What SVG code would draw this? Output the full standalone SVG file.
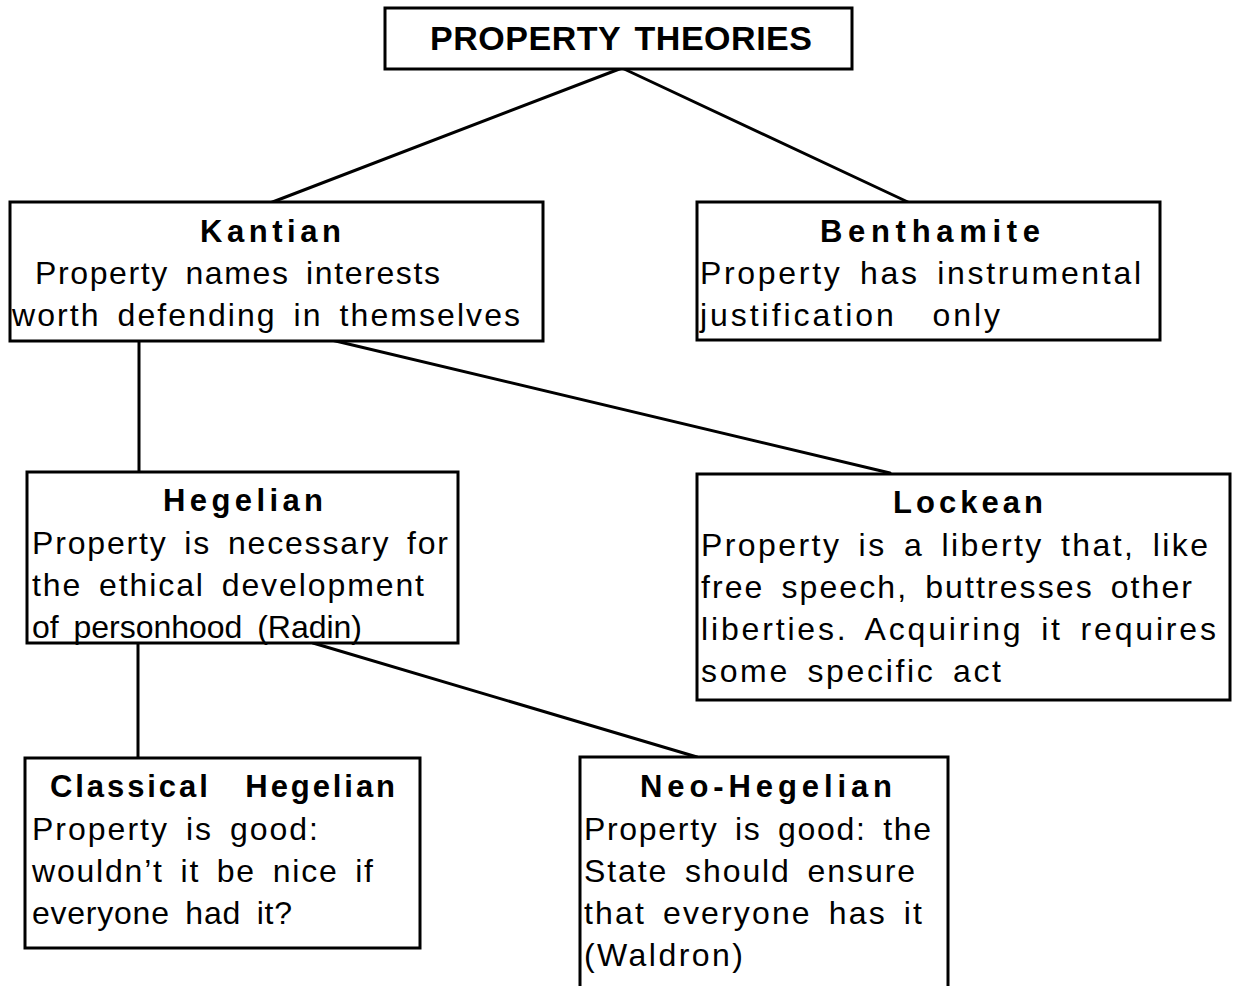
<svg xmlns="http://www.w3.org/2000/svg" width="1234" height="986" viewBox="0 0 1234 986">
<style>
.box{fill:#fff;stroke:#000;stroke-width:3}
.con line{stroke:#000;stroke-width:3;stroke-linecap:round}
text{font-family:"Liberation Sans",Arial,sans-serif;fill:#000}
.t{font-weight:bold;font-size:31px}
.b{font-size:32px;word-spacing:6px}
.top{font-weight:bold;font-size:34px;word-spacing:4px}
.pre{white-space:pre}
</style>
<rect width="1234" height="986" fill="#fff"/>
<g class="con">
<line x1="622" y1="68" x2="270" y2="203"/>
<line x1="622" y1="68" x2="910" y2="203"/>
<line x1="139" y1="341" x2="139" y2="472"/>
<line x1="323" y1="338" x2="890" y2="473"/>
<line x1="138" y1="643" x2="138" y2="758"/>
<line x1="313" y1="643" x2="697" y2="757"/>
</g>
<g id="root">
<rect class="box" x="385" y="8" width="467" height="61"/>
<text class="top" x="430" y="50" textLength="382" lengthAdjust="spacing">PROPERTY THEORIES</text>
</g>
<g id="kantian">
<rect class="box" x="10" y="202" width="533" height="139"/>
<text class="t" x="200" y="242" textLength="141" lengthAdjust="spacing">Kantian</text>
<text class="b" x="35" y="284" textLength="405" lengthAdjust="spacing">Property names interests</text>
<text class="b" x="12" y="326" textLength="508" lengthAdjust="spacing">worth defending in themselves</text>
</g>
<g id="benthamite">
<rect class="box" x="697" y="202" width="463" height="138"/>
<text class="t" x="820" y="242" textLength="220" lengthAdjust="spacing">Benthamite</text>
<text class="b" x="700" y="284" textLength="441" lengthAdjust="spacing">Property has instrumental</text>
<text class="b pre" x="700" y="326" textLength="300" lengthAdjust="spacing">justification  only</text>
</g>
<g id="hegelian">
<rect class="box" x="27" y="472" width="431" height="171"/>
<text class="t" x="163" y="511" textLength="160" lengthAdjust="spacing">Hegelian</text>
<text class="b" x="32" y="554" textLength="416" lengthAdjust="spacing">Property is necessary for</text>
<text class="b" x="32" y="596" textLength="392" lengthAdjust="spacing">the ethical development</text>
<text class="b" x="32" y="638" textLength="330" lengthAdjust="spacing">of personhood (Radin)</text>
</g>
<g id="lockean">
<rect class="box" x="697" y="474" width="533" height="226"/>
<text class="t" x="893" y="513" textLength="150" lengthAdjust="spacing">Lockean</text>
<text class="b" x="701" y="556" textLength="507" lengthAdjust="spacing">Property is a liberty that, like</text>
<text class="b" x="701" y="598" textLength="491" lengthAdjust="spacing">free speech, buttresses other</text>
<text class="b" x="701" y="640" textLength="515" lengthAdjust="spacing">liberties. Acquiring it requires</text>
<text class="b" x="701" y="682" textLength="300" lengthAdjust="spacing">some specific act</text>
</g>
<g id="classical">
<rect class="box" x="25" y="758" width="395" height="190"/>
<text class="t pre" x="50" y="797" textLength="345" lengthAdjust="spacing">Classical   Hegelian</text>
<text class="b" x="32" y="840" textLength="286" lengthAdjust="spacing">Property is good:</text>
<text class="b" x="32" y="882" textLength="341" lengthAdjust="spacing">wouldn’t it be nice if</text>
<text class="b" x="32" y="924" textLength="260" lengthAdjust="spacing">everyone had it?</text>
</g>
<g id="neohegelian">
<rect class="box" x="580" y="757" width="368" height="240"/>
<text class="t" x="640" y="797" textLength="252" lengthAdjust="spacing">Neo-Hegelian</text>
<text class="b" x="584" y="840" textLength="347" lengthAdjust="spacing">Property is good: the</text>
<text class="b" x="584" y="882" textLength="331" lengthAdjust="spacing">State should ensure</text>
<text class="b" x="584" y="924" textLength="338" lengthAdjust="spacing">that everyone has it</text>
<text class="b" x="584" y="966" textLength="159" lengthAdjust="spacing">(Waldron)</text>
</g>
</svg>
